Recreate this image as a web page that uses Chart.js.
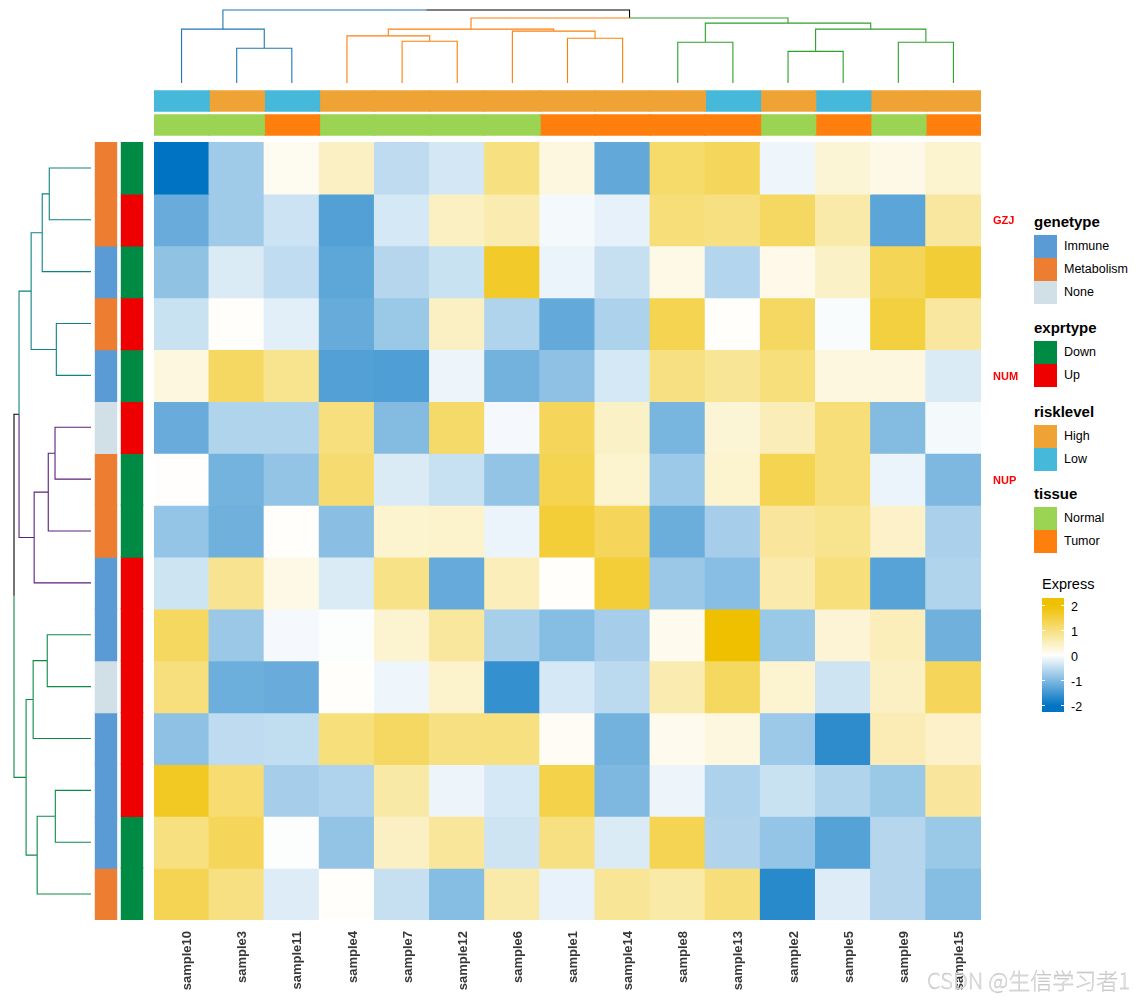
<!DOCTYPE html>
<html>
<head>
<meta charset="utf-8">
<script src="https://cdn.jsdelivr.net/npm/chart.js@4.4.1/dist/chart.umd.min.js"></script>
<style>
html,body{margin:0;padding:0;background:#fff;}
#page{position:relative;width:1136px;height:1000px;overflow:hidden;font-family:'Liberation Sans',Arial,Helvetica,sans-serif;color:#000;}
.box{position:absolute;}
.box canvas{display:block;}
.lg-title{position:absolute;font-weight:bold;font-size:15px;line-height:16px;white-space:nowrap;}
.lg-key{position:absolute;width:23px;height:23px;}
.lg-lab{position:absolute;font-size:12.5px;line-height:23px;white-space:nowrap;}
.cb-lab{position:absolute;font-size:12.5px;line-height:16px;white-space:nowrap;}
.cb-tick{position:absolute;width:3px;height:1px;background:#fff;}
#wm{position:absolute;left:927px;top:968px;font-family:'Noto Sans CJK SC','Liberation Sans',sans-serif;font-size:22px;line-height:22px;font-weight:300;color:#e2e2e2;-webkit-text-stroke:0.3px #b4b4b4;white-space:nowrap;z-index:5;}
</style>
</head>
<body>
<div id="page">
  <div class="box" style="left:150px;top:6px"><canvas id="colDend" width="835" height="81"></canvas></div>
  <div class="box" style="left:10px;top:138px"><canvas id="rowDend" width="85" height="786"></canvas></div>
  <div class="box" style="left:154px;top:89px"><canvas id="colAnno" width="827" height="48"></canvas></div>
  <div class="box" style="left:93px;top:142px"><canvas id="rowAnno" width="52" height="778"></canvas></div>
  <div class="box" style="left:154px;top:142px"><canvas id="heat" width="877" height="858"></canvas></div>
  <div id="legend"></div>
  <div id="wm">CSDN @生信学习者1</div>
</div>
<script>
// ---------------- data ----------------
const samples = ['sample10','sample3','sample11','sample4','sample7','sample12','sample6','sample1','sample14','sample8','sample13','sample2','sample5','sample9','sample15'];
const rowNames = ['','GZJ','','','NUM','','NUP','','','','','','','',''];

const r01 = [-2.10,-0.75, 0.12, 0.47,-0.51,-0.34, 1.00, 0.24,-1.23, 1.17, 1.29,-0.13, 0.33, 0.20, 0.38];
const r02 = [-1.18,-0.75,-0.40,-1.36,-0.33, 0.49, 0.62,-0.09,-0.20, 1.06, 0.98, 1.23, 0.67,-1.29, 0.75];
const r03 = [-0.87,-0.28,-0.50,-1.27,-0.58,-0.42, 1.67,-0.16,-0.45, 0.20,-0.60, 0.18, 0.45, 1.33, 1.58];
const r04 = [-0.42, 0.04,-0.23,-1.20,-0.79, 0.47,-0.62,-1.22,-0.64, 1.37, 0.04, 1.23,-0.05, 1.50, 0.75];
const r05 = [ 0.25, 1.23, 0.88,-1.36,-1.38,-0.14,-1.10,-0.88,-0.33, 0.98, 0.82, 1.03, 0.25, 0.24,-0.28];
const r06 = [-1.18,-0.62,-0.62, 1.01,-0.97, 1.18,-0.08, 1.29, 0.45,-1.06, 0.33, 0.56, 1.06,-0.97,-0.09];
const r07 = [ 0.02,-1.09,-0.85, 1.12,-0.28,-0.44,-0.85, 1.37, 0.38,-0.77, 0.38, 1.37, 1.06,-0.16,-1.01];
const r08 = [-0.83,-1.13, 0.04,-0.92, 0.38, 0.41,-0.16, 1.56, 1.29,-1.16,-0.70, 0.78, 0.88, 0.43,-0.67];
const r09 = [-0.39, 0.87, 0.20,-0.28, 0.93,-1.21, 0.54, 0.03, 1.56,-0.78,-0.93, 0.65, 1.03,-1.32,-0.62];
const r10 = [ 1.25,-0.78,-0.08,-0.02, 0.37, 0.76,-0.68,-0.95,-0.70, 0.13, 2.05,-0.79, 0.34, 0.53,-1.13];
const r11 = [ 1.01,-1.15,-1.18, 0.03,-0.13, 0.41,-1.59,-0.33,-0.53, 0.62, 1.25, 0.37,-0.38, 0.47, 1.29];
const r12 = [-0.89,-0.51,-0.49, 1.03, 1.23, 0.98, 1.00, 0.08,-1.10, 0.13, 0.24,-0.77,-1.64, 0.59, 0.43];
const r13 = [ 1.73, 1.11,-0.70,-0.63, 0.70,-0.14,-0.33, 1.42,-1.01,-0.14,-0.64,-0.42,-0.62,-0.79, 0.78];
const r14 = [ 1.00, 1.29,-0.02,-0.85, 0.47, 0.79,-0.38, 0.98,-0.28, 1.36,-0.61,-0.83,-1.33,-0.58,-0.79];
const r15 = [ 1.36, 0.98,-0.27, 0.04,-0.45,-0.95, 0.67,-0.18, 0.82, 0.68, 1.04,-1.69,-0.27,-0.58,-0.95];
const heatRows = [r01,r02,r03,r04,r05,r06,r07,r08,r09,r10,r11,r12,r13,r14,r15];

const genetype = ['Metabolism','Metabolism','Immune','Metabolism','Immune','None','Metabolism','Metabolism','Immune','Immune','None','Immune','Immune','Immune','Metabolism'];
const exprtype = ['Down','Up','Down','Up','Down','Up','Down','Down','Up','Up','Up','Up','Up','Down','Down'];
const risklevel = ['Low','High','Low','High','High','High','High','High','High','High','Low','High','Low','High','High'];
const tissue = ['Normal','Normal','Tumor','Normal','Normal','Normal','Normal','Tumor','Tumor','Tumor','Tumor','Normal','Tumor','Normal','Tumor'];

const geneLevels = ['Immune','Metabolism','None'];
const geneColors = ['#5B9BD5','#ED7D31','#D1DFE6'];
const exprLevels = ['Down','Up'];
const exprColors = ['#008B45','#EE0000'];
const riskLevels = ['High','Low'];
const riskColors = ['#EFA335','#46B8DA'];
const tissueLevels = ['Normal','Tumor'];
const tissueColors = ['#9AD452','#FF7F0E'];

// dendrograms: [childA, childB, height]; negative = leaf (1-based, display order), positive = earlier merge
const colMerges = [[-2,-3,3.44],[-1,1,5.34],[-5,-6,4.14],[-4,3,4.67],[-8,-9,4.44],[-7,5,5.14],[4,6,5.34],
  [-10,-11,4.04],[-12,-13,3.14],[-14,-15,4.04],[9,10,5.34],[8,11,5.94],[7,12,6.44],[2,13,7.24]];
const colClusters = [0,0,0,1,1,1,1,1,1,2,2,2,2,2,2];
const colClusterColors = ['#1F77B4','#FF7F0E','#2CA02C'];
const rowMerges = [[-1,-2,4.14],[1,-3,4.84],[-4,-5,3.44],[2,3,5.94],[-6,-7,3.57],[5,-8,4.24],[6,-9,5.64],[4,7,7.14],
  [-10,-11,4.34],[9,-12,5.74],[-13,-14,3.54],[11,-15,5.34],[10,12,6.44],[8,13,7.64]];
const rowClusters = [0,0,0,0,0,1,1,1,1,2,2,2,2,2,2];
const rowClusterColors = ['#0E837F','#5D1F7C','#0E8A47'];

const colorbarTicks = [2,1,0,-1,-2];

// ---------------- helpers ----------------
const FONT = "'Liberation Sans', Arial, Helvetica, sans-serif";
const LOW = [0,115,194], MID = [255,255,255], HIGH = [239,192,0];
function valueColor(v){
  const t = Math.max(-1, Math.min(1, v/2));
  const end = t >= 0 ? HIGH : LOW, a = Math.abs(t);
  const c = MID.map((m,i)=>Math.round(m + (end[i]-m)*a));
  return `rgb(${c[0]},${c[1]},${c[2]})`;
}
const pick = (levels, colors) => v => colors[levels.indexOf(v)];

function dendroEdges(merges, clusters, palette){
  const pos = [], hgt = [], lv = [], edges = [];
  const ref = k => k < 0 ? {p:-k-0.5, h:0, l:[-k-1]} : {p:pos[k-1], h:hgt[k-1], l:lv[k-1]};
  merges.forEach(([a,b,h], i) => {
    const A = ref(a), B = ref(b), mid = (A.p + B.p)/2;
    pos[i] = mid; hgt[i] = h; lv[i] = A.l.concat(B.l);
    [A,B].forEach(C => {
      const cl = new Set(C.l.map(x=>clusters[x]));
      const color = cl.size === 1 ? palette[[...cl][0]] : '#000000';
      edges.push({pts:[[C.p,C.h],[C.p,h],[mid,h]], color});
    });
  });
  return {edges, rootH: hgt[hgt.length-1]};
}
const baseOpts = {responsive:false, maintainAspectRatio:false, animation:false, events:[],
  plugins:{legend:{display:false}, tooltip:{enabled:false}}};
const noPad = s => { s.paddingTop = 0; s.paddingBottom = 0; s.paddingLeft = 0; s.paddingRight = 0; };

// ---------------- column dendrogram ----------------
(function(){
  const d = dendroEdges(colMerges, colClusters, colClusterColors);
  new Chart(document.getElementById('colDend'), {
    type:'scatter',
    data:{datasets:d.edges.map(e=>({data:e.pts.map(([p,h])=>({x:p,y:h})), showLine:true, borderColor:e.color,
      borderWidth:1.1, pointRadius:0, fill:false, clip:false, tension:0}))},
    options:Object.assign({}, baseOpts, {layout:{padding:4},
      scales:{x:{type:'linear',min:0,max:samples.length,display:false},
              y:{type:'linear',min:0,max:d.rootH,display:false}}})
  });
})();

// ---------------- row dendrogram ----------------
(function(){
  const d = dendroEdges(rowMerges, rowClusters, rowClusterColors);
  new Chart(document.getElementById('rowDend'), {
    type:'scatter',
    data:{datasets:d.edges.map(e=>({data:e.pts.map(([p,h])=>({x:h,y:p})), showLine:true, borderColor:e.color,
      borderWidth:1.1, pointRadius:0, fill:false, clip:false, tension:0}))},
    options:Object.assign({}, baseOpts, {layout:{padding:4},
      scales:{x:{type:'linear',min:0,max:d.rootH,reverse:true,display:false},
              y:{type:'linear',min:0,max:heatRows.length,reverse:true,display:false}}})
  });
})();

// ---------------- column annotations ----------------
new Chart(document.getElementById('colAnno'), {
  type:'bar',
  data:{labels:['risklevel','tissue'],
    datasets:samples.map((s,j)=>({data:[[j,j+1],[j,j+1]],
      backgroundColor:[pick(riskLevels,riskColors)(risklevel[j]), pick(tissueLevels,tissueColors)(tissue[j])],
      borderWidth:0, inflateAmount:0.7, grouped:false, barPercentage:20/24, categoryPercentage:1}))},
  options:Object.assign({}, baseOpts, {indexAxis:'y', layout:{padding:0},
    scales:{x:{type:'linear',min:0,max:samples.length,display:false},
            y:{type:'category',display:false}}})
});

// ---------------- row annotations ----------------
new Chart(document.getElementById('rowAnno'), {
  type:'bar',
  data:{labels:['genetype','exprtype'],
    datasets:heatRows.map((r,i)=>({data:[[i,i+1],[i,i+1]],
      backgroundColor:[pick(geneLevels,geneColors)(genetype[i]), pick(exprLevels,exprColors)(exprtype[i])],
      borderWidth:0, inflateAmount:0.7, grouped:false, barPercentage:21/26, categoryPercentage:1}))},
  options:Object.assign({}, baseOpts, {layout:{padding:0},
    scales:{x:{type:'category',display:false},
            y:{type:'linear',min:0,max:heatRows.length,reverse:true,display:false}}})
});

// ---------------- heatmap ----------------
new Chart(document.getElementById('heat'), {
  type:'bar',
  data:{labels:samples,
    datasets:heatRows.map((vals,r)=>({data:vals.map(()=>[r,r+1]), backgroundColor:vals.map(valueColor),
      borderWidth:0, inflateAmount:0.6, grouped:false, barPercentage:1, categoryPercentage:1}))},
  options:Object.assign({}, baseOpts, {layout:{padding:0},
    scales:{
      x:{type:'category', offset:true, grid:{display:false}, border:{display:false},
         afterFit:s=>{s.height=80; noPad(s);},
         ticks:{autoSkip:false, minRotation:90, maxRotation:90, padding:3, labelOffset:6,
                color:'#383838', font:{family:FONT, size:13, weight:'bold'}}},
      y:{type:'linear', position:'right', min:0, max:heatRows.length, reverse:true,
         grid:{display:false}, border:{display:false},
         afterFit:s=>{s.width=50; noPad(s);},
         afterBuildTicks:s=>{s.ticks = rowNames.map((n,i)=>({value:i+0.5}));},
         ticks:{autoSkip:false, padding:4, labelOffset:1.5, color:'#FF0000',
                font:{family:FONT, size:11, weight:'bold'},
                callback:(v,i)=>rowNames[i]}}
    }})
});

// ---------------- legend (HTML) ----------------
(function(){
  const L = document.getElementById('legend');
  const add = (cls, style, text) => { const d = document.createElement('div'); d.className = cls;
    Object.assign(d.style, style); if (text !== undefined) d.textContent = text; L.appendChild(d); };
  const groups = [
    {title:'genetype', levels:geneLevels, colors:geneColors, top:214},
    {title:'exprtype', levels:exprLevels, colors:exprColors, top:320},
    {title:'risklevel', levels:riskLevels, colors:riskColors, top:404},
    {title:'tissue', levels:tissueLevels, colors:tissueColors, top:486}
  ];
  groups.forEach(g => {
    add('lg-title', {left:'1034px', top:g.top+'px'}, g.title);
    g.levels.forEach((lab,k) => {
      const t = g.top + 21 + k*23;
      add('lg-key', {left:'1034px', top:t+'px', background:g.colors[k]});
      add('lg-lab', {left:'1064px', top:t+'px'}, lab);
    });
  });
  // colour bar
  add('lg-title', {left:'1042px', top:'576px', fontWeight:'normal', fontSize:'14.5px'}, 'Express');
  const barTop = 598, barH = 114, zeroY = 655.5, ppu = 25;
  const stops = [];
  for (let k=0; k<=20; k++){ const y = barTop + barH*k/20; stops.push(`${valueColor((zeroY-y)/ppu)} ${(k*5)}%`); }
  add('lg-key', {left:'1042px', top:barTop+'px', width:'22px', height:barH+'px', background:`linear-gradient(to bottom, ${stops.join(',')})`});
  colorbarTicks.forEach(v => {
    const y = zeroY - v*ppu;
    add('cb-tick', {left:'1042px', top:(Math.round(y)-1)+'px'});
    add('cb-tick', {left:'1061px', top:(Math.round(y)-1)+'px'});
    add('cb-lab', {left:'1071px', top:(y-7)+'px'}, String(v));
  });
})();
</script>
</body>
</html>
